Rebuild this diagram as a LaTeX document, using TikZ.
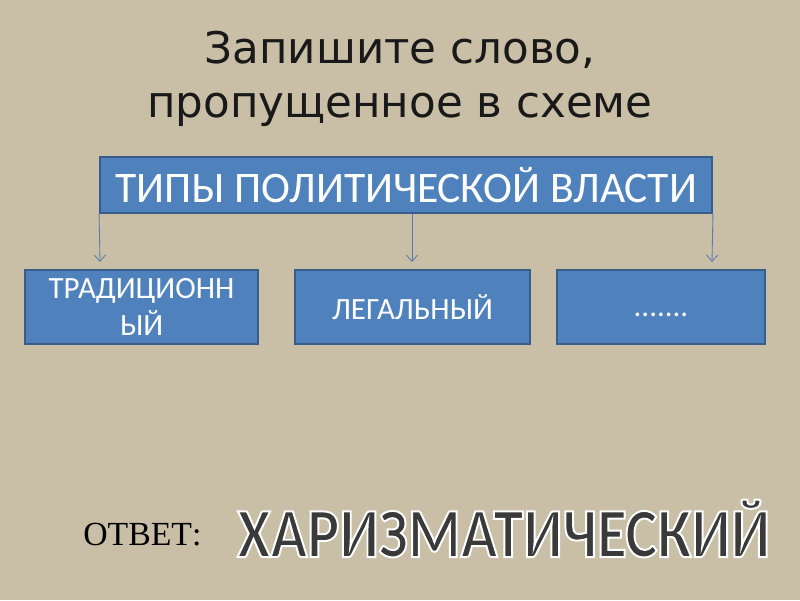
\documentclass[tikz,border=0pt]{standalone}
\usepackage{fontspec}
\setmainfont{Carlito}
\newfontfamily\titlefont{DejaVu Sans}
\newfontfamily\answerfont{Liberation Serif}
\newfontfamily\wordfont[FakeStretch=0.86]{Carlito Bold}
\usetikzlibrary{arrows.meta, positioning}

\definecolor{canvas}{HTML}{C9BEA6}
\definecolor{boxfill}{HTML}{4F81BD}
\definecolor{boxline}{HTML}{385D8A}
\definecolor{arrowline}{HTML}{5A7AAE}
\definecolor{wordgray}{HTML}{3A3A3A}

% white rim round the letters of the answer
\newcommand{\rimtext}[1]{\special{pdf:code q 2 Tr 1 1 1 RG 1.4 w}#1\special{pdf:code Q}}

\begin{document}
\begin{tikzpicture}[
  x=0.025cm, y=-0.025cm,
  typebox/.style={draw=boxline, line width=1.2pt, fill=boxfill, text=white, align=center, inner sep=2pt},
  smallbox/.style={typebox, minimum height=1.85cm, font=\fontsize{22}{26}\selectfont},
  link/.style={draw=arrowline, line width=0.6pt, -{Straight Barb[length=4.5pt, width=8pt]}},
  heading/.style={font=\titlefont\fontsize{31}{38}\selectfont, align=center, text=black!90}
  ]

  % Background
  \useasboundingbox (0,0) rectangle (800,600);
  \fill[canvas] (0,0) rectangle (800,600);

  % Title
  \node[heading] (title) at (400,79) {Запишите слово,\\пропущенное в схеме};

  % Boxes
  \node[typebox, minimum width=15.3cm, minimum height=1.4cm, font=\fontsize{31}{36}\selectfont] (types) at (406,185) {ТИПЫ ПОЛИТИЧЕСКОЙ ВЛАСТИ};
  \node[smallbox, minimum width=5.83cm] (trad) at (141.5,307) {ТРАДИЦИОНН\\ЫЙ};
  \node[smallbox, minimum width=5.88cm] (legal) at (412.5,307) {ЛЕГАЛЬНЫЙ};
  \node[smallbox, minimum width=5.2cm] (missing) at (661,307) {\vphantom{Л}.......};

  % Arrows
  \coordinate (endL) at (100,262);
  \coordinate (endM) at (412,262);
  \coordinate (endR) at (712,262);
  \draw[link] (types.south west) -- (endL);
  \draw[link] (types.south -| endM) -- (endM);
  \draw[link] (types.south east) -- (endR);

  % Answer
  \node[font=\answerfont\fontsize{24}{28}\selectfont, anchor=base west, inner sep=0pt] (answer) at (83,545) {ОТВЕТ:};
  \node[font=\wordfont\fontsize{50}{56}\selectfont, text=wordgray, anchor=base west, inner sep=0pt] (word) at (237,557) {\rimtext{ХАРИЗМАТИЧЕСКИЙ}};

\end{tikzpicture}
\end{document}
